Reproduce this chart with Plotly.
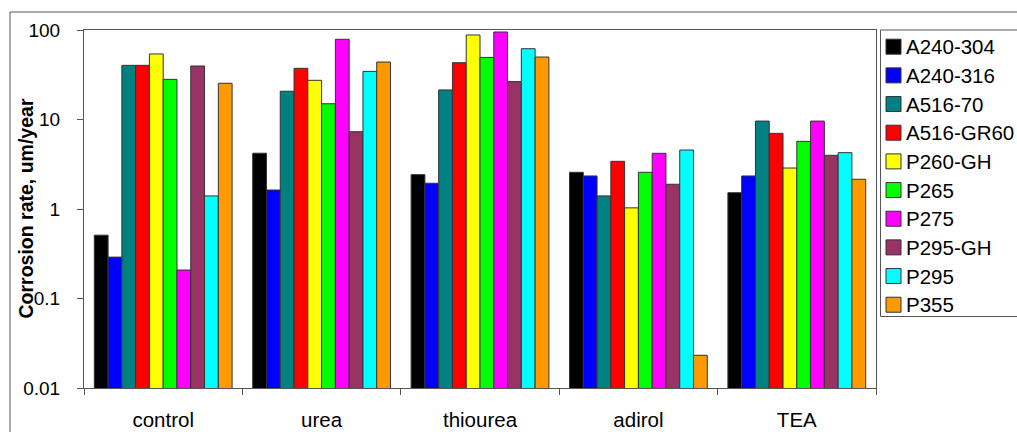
import plotly.graph_objects as go

categories = ["control", "urea", "thiourea", "adirol", "TEA"]
series_names = ["A240-304", "A240-316", "A516-70", "A516-GR60", "P260-GH",
                "P265", "P275", "P295-GH", "P295", "P355"]
colors = ["#000000", "#0000FF", "#008080", "#FF0000", "#FFFF00",
          "#00FF00", "#FF00FF", "#993366", "#00FFFF", "#FF9900"]

a240_304 = [0.51, 4.2, 2.42, 2.57, 1.52]
a240_316 = [0.29, 1.63, 1.94, 2.34, 2.34]
a516_70 = [40.3, 20.7, 21.4, 1.40, 9.6]
a516_gr60 = [40.3, 37.3, 43.1, 3.41, 7.0]
p260_gh = [54.0, 27.4, 88.0, 1.03, 2.87]
p265 = [28.1, 15.0, 49.4, 2.57, 5.7]
p275 = [0.208, 78.7, 95.0, 4.19, 9.6]
p295_gh = [39.6, 7.3, 26.5, 1.89, 3.98]
p295 = [1.40, 34.5, 61.8, 4.56, 4.26]
p355 = [25.4, 43.9, 49.9, 0.0232, 2.15]

series_values = [a240_304, a240_316, a516_70, a516_gr60, p260_gh,
                 p265, p275, p295_gh, p295, p355]

y_tickvals = [0.01, 0.1, 1, 10, 100]
y_ticktext = ["0.01", "0.1", "1", "10", "100"]

FONT = "Liberation Sans, Arial, sans-serif"
EDGE = "#333333"

# figure fills the whole window (page body margin removed below)
W, H = 1017, 432
L, R, T, B = 84, 876, 30, 388


def px(fx):
    return (fx - L) / (R - L)


def py(fy):
    return (B - fy) / (B - T)


fig = go.Figure()
for name, vals, col in zip(series_names, series_values, colors):
    fig.add_trace(go.Bar(
        x=categories, y=vals, name=name,
        marker=dict(color=col, line=dict(color=EDGE, width=1)),
        showlegend=False,
    ))

fig.update_layout(
    width=W, height=H,
    barmode="group", bargap=0.13, bargroupgap=0,
    plot_bgcolor="white", paper_bgcolor="white",
    margin=dict(l=L, r=W - R, t=T, b=H - B, autoexpand=False),
    font=dict(family=FONT, size=20, color="black"),
    showlegend=False,
)

fig.update_yaxes(
    type="log", range=[-2, 2],
    tickvals=y_tickvals, ticktext=y_ticktext,
    ticks="outside", ticklen=6, tickcolor="#555555",
    showline=True, linecolor="#555555", linewidth=1, mirror=True,
    showgrid=False, zeroline=False,
    tickfont=dict(family=FONT, size=19),
    ticklabelstandoff=13,
)
fig.update_xaxes(
    ticks="outside", ticklen=6, tickcolor="#555555", tickson="boundaries",
    showline=True, linecolor="#555555", linewidth=1, mirror=True,
    showgrid=False,
    tickfont=dict(family=FONT, size=20.5),
    ticklabelstandoff=13,
)

# y-axis title
fig.add_annotation(
    text="<b>Corrosion rate, um/year</b>", textangle=-90,
    xref="paper", yref="paper", x=px(25.5), y=0.5,
    xanchor="center", yanchor="middle", showarrow=False,
    font=dict(family=FONT, size=19.5, color="black"),
)

# outer chart-area border
fig.add_shape(type="rect", xref="paper", yref="paper",
              x0=px(10), x1=px(1040), y0=py(460), y1=py(12),
              line=dict(color="#555555", width=1), layer="below")

# legend box (drawn as shapes + text)
fig.add_shape(type="rect", xref="paper", yref="paper",
              x0=px(880.5), x1=px(1020), y0=py(316.5), y1=py(30),
              line=dict(color="#555555", width=1), fillcolor="white")
first_y, step = 46.7, 28.67
for i, (name, col) in enumerate(zip(series_names, colors)):
    cy = first_y + step * i
    fig.add_shape(type="rect", xref="paper", yref="paper",
                  x0=px(886), x1=px(901), y0=py(cy + 7.5), y1=py(cy - 7.5),
                  line=dict(color=EDGE, width=1), fillcolor=col)
    fig.add_annotation(
        text=name, xref="paper", yref="paper", x=px(904), y=py(cy),
        xanchor="left", yanchor="middle", showarrow=False,
        font=dict(family=FONT, size=20.5, color="black"),
    )

fig.write_html(
    "out.html",
    config={"displayModeBar": False},
    post_script="document.body.style.margin='0';document.body.style.overflow='hidden';",
)
